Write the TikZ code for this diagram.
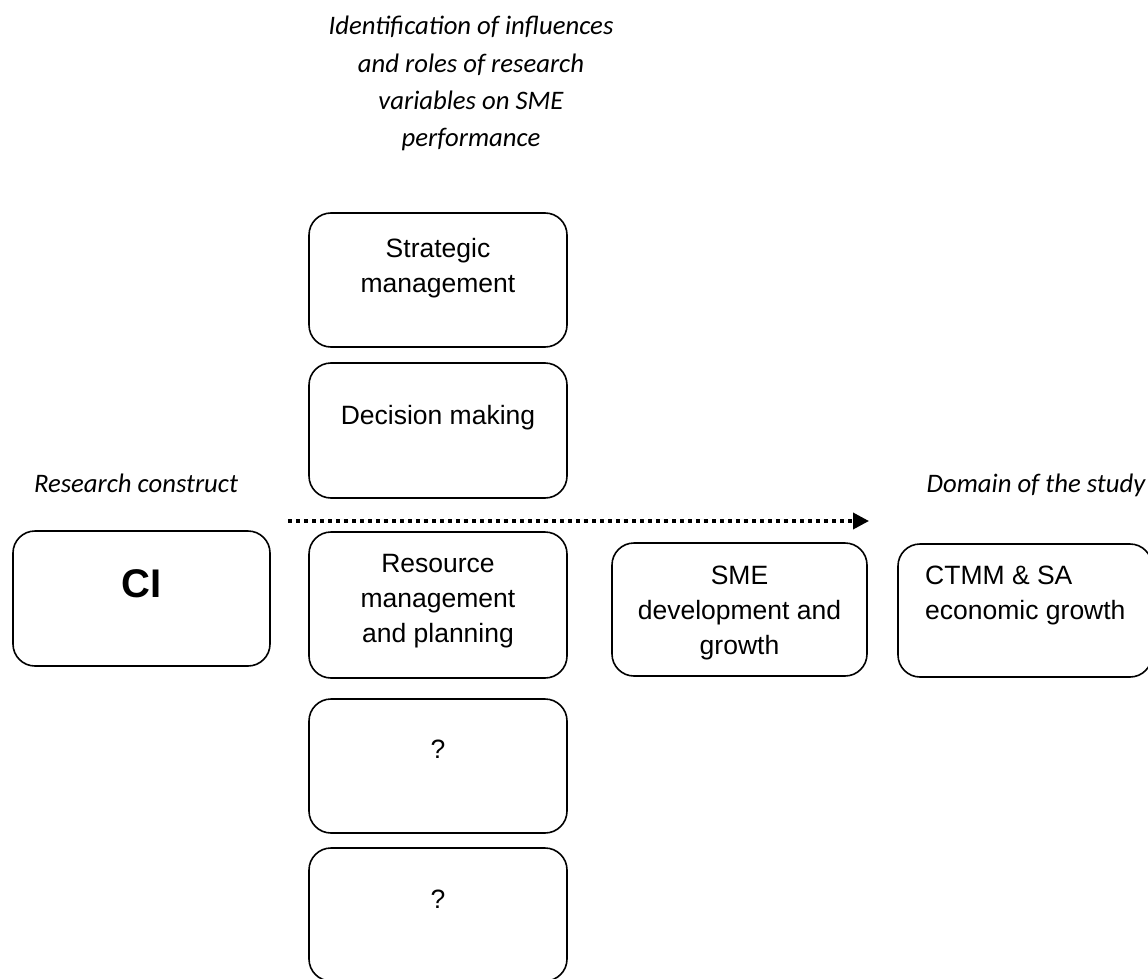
\documentclass[tikz,border=0pt]{standalone}
\usepackage{fontspec}
\setmainfont{Liberation Sans}
\newfontfamily\notefont{Carlito}
\usetikzlibrary{arrows.meta}

\tikzset{
  varbox/.style={draw=black, line width=1.6pt, rounded corners=22pt,
    minimum width=258pt, minimum height=134pt, inner sep=0pt},
  boxtext/.style={inner sep=0pt, align=center,
    font=\fontsize{26.5}{35}\selectfont},
  notetext/.style={inner sep=0pt, align=center,
    font=\notefont\itshape\fontsize{26.7}{37.3}\selectfont},
  flow/.style={line width=3.6pt, dash pattern=on 4pt off 4pt,
    -{Triangle[length=16pt,width=16pt]}}
}

\begin{document}
\begin{tikzpicture}[x=1pt,y=-1pt]
  \useasboundingbox (0,0) rectangle (1148,979);

  % heading over the column of variables
  \node[notetext, anchor=north] (head) at (471,16)
    {Identification of influences\\and roles of research\\variables on SME\\performance};

  % side captions
  \node[notetext, anchor=base] (construct) at (136,492) {Research construct};
  \node[notetext, anchor=base] (domain) at (1036,492) {Domain of the study};

  % research construct
  \node[varbox, minimum width=257pt, minimum height=135pt] (ci) at (141.5,598.5) {};
  \node[inner sep=0pt, anchor=base, font=\bfseries\fontsize{40}{44}\selectfont] (citext) at (141.5,597) {CI};

  % research variables
  \node[varbox] (sm) at (438,280) {};
  \node[boxtext, anchor=north] (smtext) at (438,238) {Strategic\\management};

  \node[varbox, minimum height=135pt] (dm) at (438,430.5) {};
  \node[boxtext, anchor=base] (dmtext) at (438,424) {Decision making};

  \node[varbox, minimum height=146pt] (rm) at (438,605) {};
  \node[boxtext, anchor=north] (rmtext) at (438,554) {Resource\\management\\and planning};

  \node[varbox] (qa) at (438,766) {};
  \node[boxtext, anchor=base] (qatext) at (438,758) {?};

  \node[varbox, minimum height=133pt] (qb) at (438,914.5) {};
  \node[boxtext, anchor=base] (qbtext) at (438,908) {?};

  % domain of the study
  \node[varbox, minimum width=255pt, minimum height=133pt] (sme) at (739.5,609.5) {};
  \node[boxtext, anchor=north] (smetext) at (739.5,566) {SME\\development and\\growth};

  \node[varbox, minimum width=254pt, minimum height=133pt] (ct) at (1025,610.5) {};
  \node[boxtext, align=left, anchor=north west] (cttext) at (925,566) {CTMM \& SA\\economic growth};

  % direction of the study
  \coordinate (flowstart) at (288,521);
  \coordinate (flowend) at (869,521);
  \draw[flow] (flowstart) -- (flowend);
\end{tikzpicture}
\end{document}
